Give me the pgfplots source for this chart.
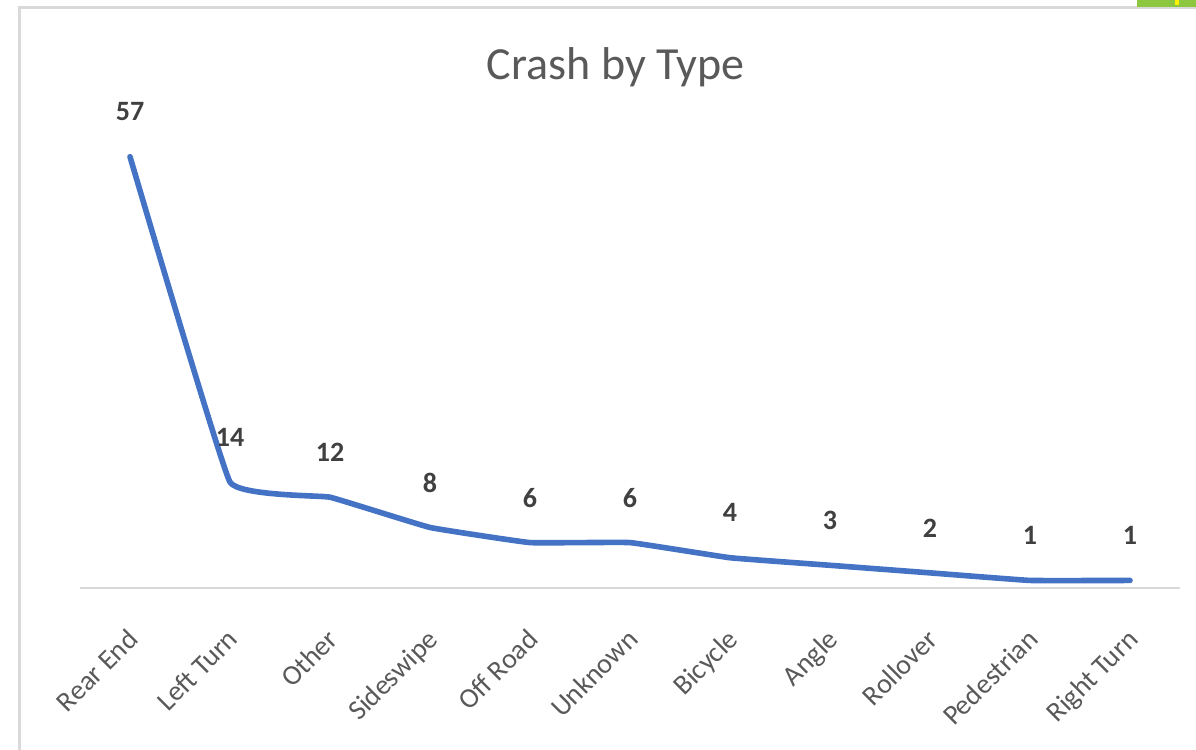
\documentclass[border=0pt]{standalone}
\usepackage{pgfplots}
\pgfplotsset{compat=1.18}
\usepackage{fontspec}
\setmainfont{Carlito}
\definecolor{lineblue}{HTML}{4472C4}
\definecolor{txtgray}{HTML}{595959}
\definecolor{lblgray}{HTML}{404040}
\definecolor{axgray}{HTML}{D9D9D9}
\definecolor{xlgreen}{HTML}{8DC63F}
\begin{document}
\begin{tikzpicture}
\useasboundingbox (0,0) rectangle (598pt,375pt);
\fill[white] (0,0) rectangle (598pt,375pt);
\draw[axgray, line width=1.5pt] (9.5pt,-5pt) rectangle (615pt,371pt);
\fill[xlgreen] (568.5pt,371.5pt) rectangle (598pt,375pt);
\fill[yellow] (587.5pt,372.5pt) rectangle (589.5pt,375pt);
\begin{axis}[
  at={(40pt,81pt)}, anchor=south west,
  scale only axis, width=550pt, height=227pt,
  xmin=-0.5, xmax=10.5, ymin=0, ymax=60,
  axis y line=none, axis x line*=bottom,
  x axis line style={axgray, line width=1pt, -},
  xtick=data,
  xticklabels={Rear End,Left Turn,Other,Sideswipe,Off Road,Unknown,Bicycle,Angle,Rollover,Pedestrian,Right Turn},
  major tick length=0pt,
  x tick label style={rotate=45, anchor=north east, font=\fontsize{14}{16}\selectfont, text=txtgray, xshift=-12pt, yshift=-9pt},
  title={Crash by Type},
  title style={font=\fontsize{23}{26}\selectfont, text=txtgray, at={(0.487,1)}, anchor=center, yshift=27.5pt},
  clip=false,
  nodes near coords={\textbf{\pgfmathprintnumber[assume math mode=true]{\pgfplotspointmeta}}},
  every node near coord/.append style={anchor=center, yshift=22.5pt, font=\fontsize{14}{16}\selectfont, text=lblgray},
]
\addplot[lineblue, line width=2.8pt, smooth, tension=0.15, line cap=round, line join=round] coordinates {
(0,57) (1,14) (2,12) (3,8) (4,6) (5,6) (6,4) (7,3) (8,2) (9,1) (10,1)};
\end{axis}
\end{tikzpicture}
\end{document}
